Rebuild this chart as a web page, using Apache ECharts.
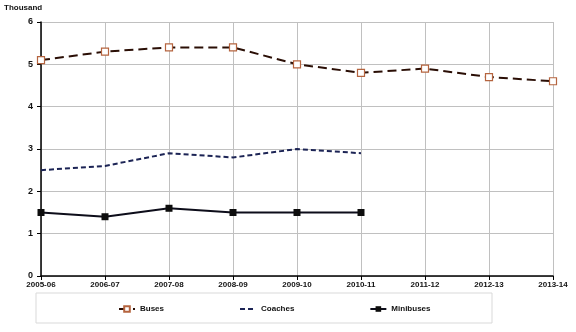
<!DOCTYPE html>
<html><head><meta charset="utf-8">
<script src="https://cdn.jsdelivr.net/npm/echarts@6/dist/echarts.min.js"></script>
<style>html,body{margin:0;padding:0;background:#fff}#c{width:576px;height:332px}</style>
</head><body><div id="c"></div>
<script>
const categories = ['2005-06','2006-07','2007-08','2008-09','2009-10','2010-11','2011-12','2012-13','2013-14'];
const buses = [5.1,5.3,5.4,5.4,5.0,4.8,4.9,4.7,4.6];
const coaches = [2.5,2.6,2.9,2.8,3.0,2.9];
const minibuses = [1.5,1.4,1.6,1.5,1.5,1.5];
const yTicks = [0,1,2,3,4,5,6];

const chart = echarts.init(document.getElementById('c'), null, {renderer:'canvas'});
const font = {fontFamily:'Liberation Sans, Arial, sans-serif', fontWeight:'bold', fontSize:8, color:'#111'};
chart.setOption({
  animation:false,
  backgroundColor:'#fff',
  grid:{left:41,right:23,top:22,bottom:56,containLabel:false},
  graphic:[
    {type:'text',left:4,top:4,style:{text:'Thousand',font:'bold 8px Liberation Sans, Arial',fill:'#111'}},
    {type:'rect',shape:{x:36,y:293,width:456,height:30},style:{fill:'#fff',stroke:'#d9d9d9',lineWidth:1},z:-1}
  ],
  legend:{
    top:300,left:113,itemGap:75,itemWidth:16,itemHeight:7,
    textStyle:{...font},
    data:['Buses',{name:'Coaches',itemStyle:{opacity:0}},'Minibuses']
  },
  xAxis:{
    type:'category',data:categories,boundaryGap:false,
    axisLine:{lineStyle:{color:'#000',width:1.5}},
    axisTick:{show:true,length:4,lineStyle:{color:'#000'}},
    axisLabel:{...font,margin:5,interval:0},
    splitLine:{show:true,lineStyle:{color:'#c0c0c0',width:1}}
  },
  yAxis:{
    type:'value',min:0,max:6,interval:1,
    axisLine:{show:true,lineStyle:{color:'#000',width:1.5}},
    axisTick:{show:true,length:4,lineStyle:{color:'#000'}},
    axisLabel:{...font,fontSize:9,margin:8,formatter:v=>yTicks.includes(v)?String(v):''},
    splitLine:{show:true,lineStyle:{color:'#c0c0c0',width:1}}
  },
  series:[
    {name:'Buses',type:'line',data:buses,symbol:'rect',symbolSize:7,
     lineStyle:{color:'#2a0e05',width:2,type:[9,5]},
     itemStyle:{color:'#fff',borderColor:'#b5643f',borderWidth:1.2},z:3},
    {name:'Coaches',type:'line',data:coaches,showSymbol:false,symbol:'none',
     lineStyle:{color:'#1c2455',width:2,type:[5,3]},itemStyle:{color:'#1c2455'}},
    {name:'Minibuses',type:'line',data:minibuses,symbol:'rect',symbolSize:7,
     lineStyle:{color:'#0d0d1a',width:2},itemStyle:{color:'#0d0d0d'}}
  ]
});
</script></body></html>
